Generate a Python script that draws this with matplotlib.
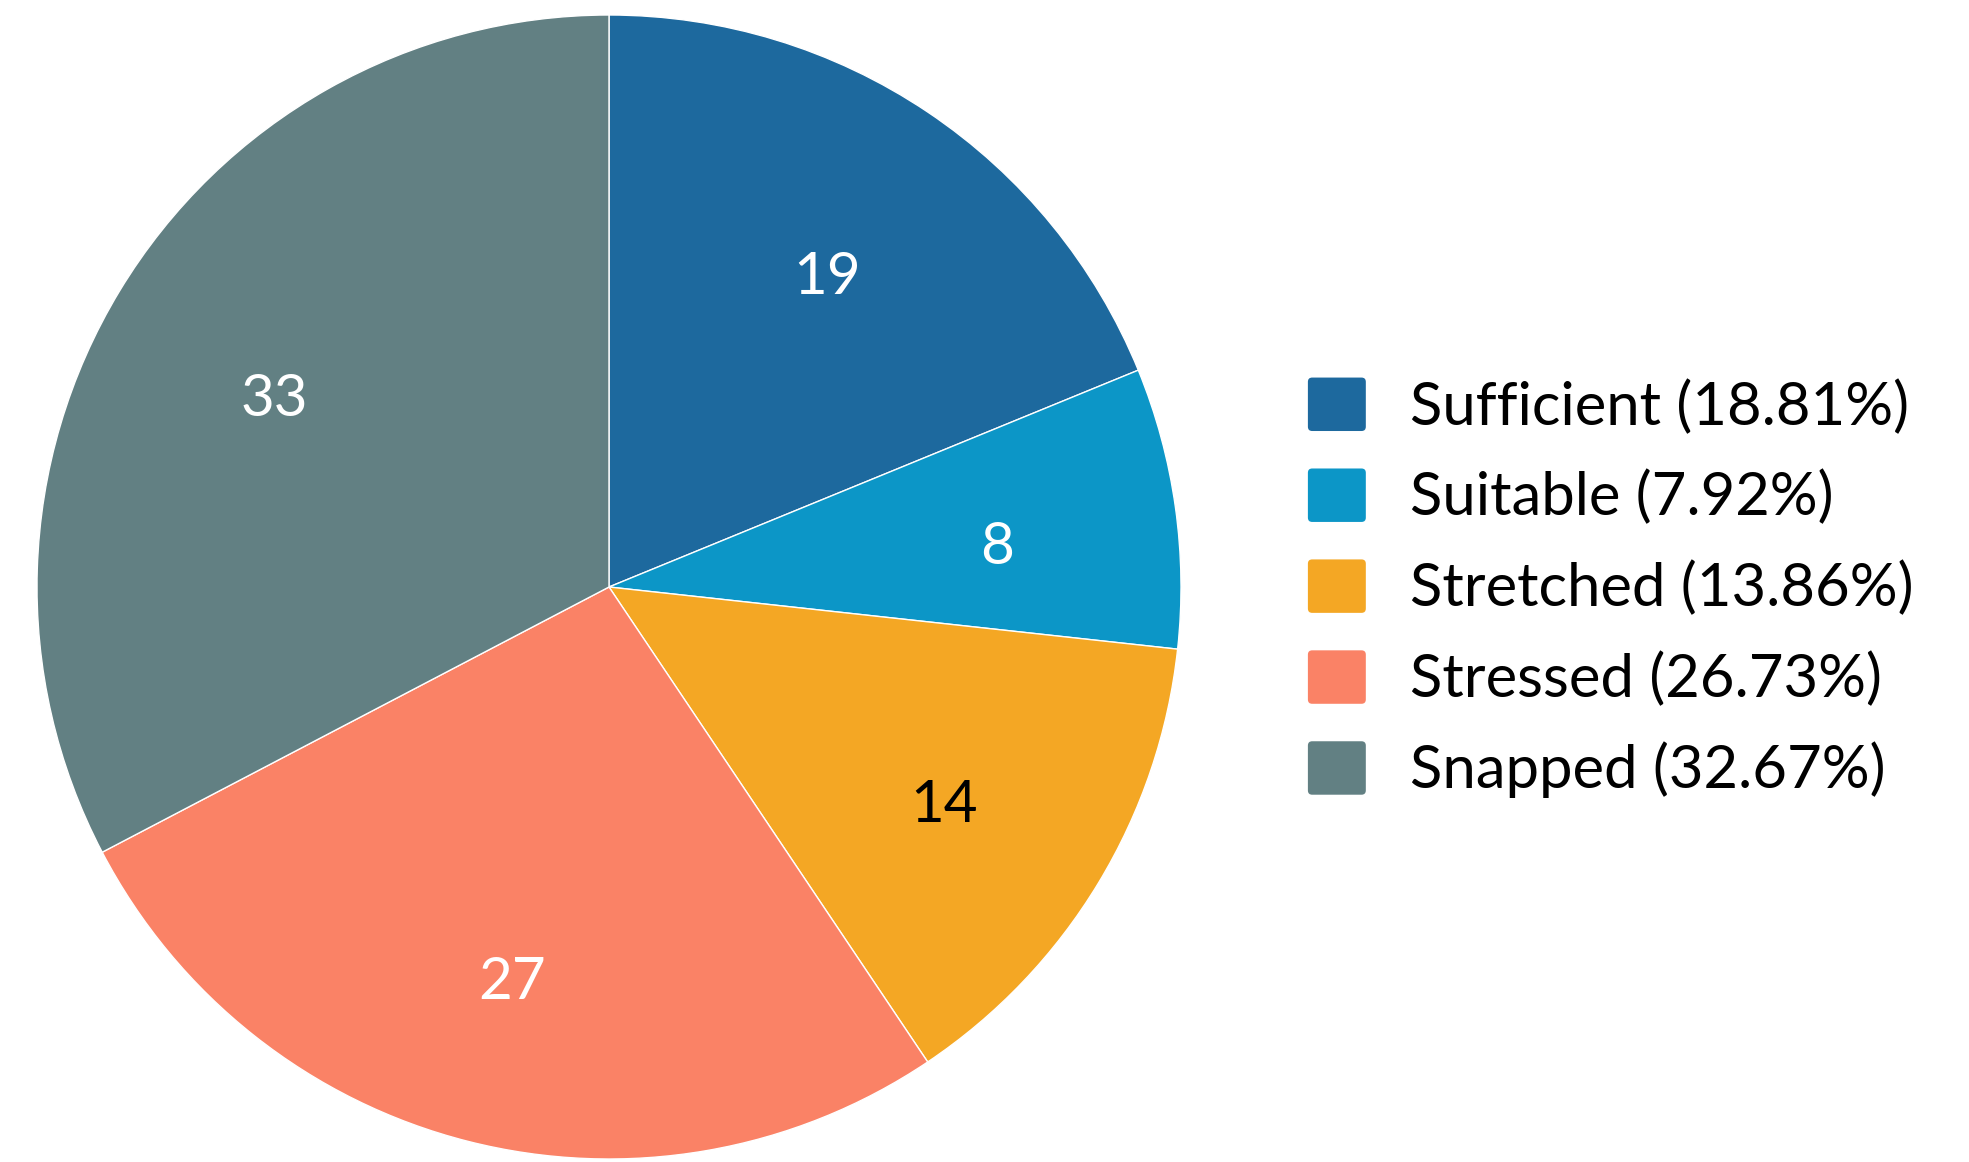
import matplotlib
matplotlib.use("Agg")
import matplotlib.pyplot as plt
from matplotlib.patches import Patch, FancyBboxPatch
from matplotlib.legend_handler import HandlerPatch

plt.rcParams['font.family'] = ['Lato', 'DejaVu Sans']

categories = ["Sufficient", "Suitable", "Stretched", "Stressed", "Snapped"]
values = [19, 8, 14, 27, 33]
colors = ["#1d699e", "#0c96c7", "#f4a724", "#fa8266", "#628083"]
label_colors = ["white", "white", "black", "white", "white"]

total = sum(values)
legend_labels = [f"{c} ({v / total * 100:.2f}%)" for c, v in zip(categories, values)]

W, H = 1969, 1162
fig = plt.figure(figsize=(W / 100, H / 100), dpi=100)
cx, cy, r = 609, 587, 572
ax = fig.add_axes([(cx - r) / W, (H - cy - r) / H, 2 * r / W, 2 * r / H])

wedges, texts = ax.pie(values, colors=colors, startangle=90, counterclock=False,
                       labels=[str(v) for v in values], labeldistance=0.685,
                       wedgeprops=dict(edgecolor="white", linewidth=1),
                       textprops=dict(fontsize=42))
for t, c in zip(texts, label_colors):
    t.set_color(c)
    t.set_ha("center")
    t.set_va("center")
    x, y = t.get_position()
    t.set_position((x, y - 0.027))
ax.set_xlim(-1, 1)
ax.set_ylim(-1, 1)
ax.set_aspect("equal")
ax.axis("off")


class RoundHandler(HandlerPatch):
    def create_artists(self, legend, orig_handle, xdescent, ydescent, width,
                       height, fontsize, trans):
        p = FancyBboxPatch((-xdescent, -ydescent), width, height,
                           boxstyle=f"round,pad=0,rounding_size={height * 0.08}",
                           facecolor=orig_handle.get_facecolor(), edgecolor="none",
                           transform=trans)
        return [p]


handles = [Patch(facecolor=c, edgecolor="none") for c in colors]
leg = fig.legend(handles, legend_labels, loc="center left",
                 bbox_to_anchor=(1284 / W, 1 - 588 / H), frameon=False,
                 fontsize=43, handlelength=0.97, handleheight=1.0,
                 handletextpad=0.74, labelspacing=0.565, borderaxespad=0,
                 handler_map={Patch: RoundHandler()})

fig.savefig("out.png", dpi=100)
